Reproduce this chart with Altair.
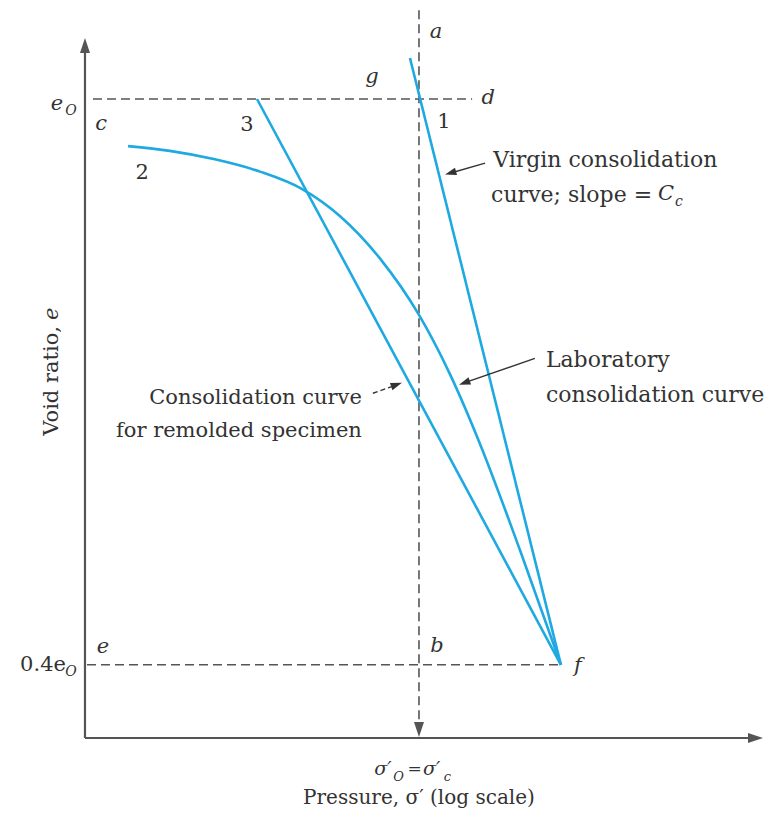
import altair as alt
import pandas as pd

# Coordinate system: x = normalised log-pressure (sigma'_c = 1), y = e / e0
X_DOMAIN = [-0.2305, 2.036]
Y_DOMAIN = [0.2471, 1.0965]

# ---- curves ----
lab_x = [0.129, 0.254, 0.389, 0.524, 0.653, 0.763, 0.883, 1.000, 1.093, 1.183, 1.302, 1.425]
lab_y = [0.950, 0.945, 0.936, 0.923, 0.904, 0.876, 0.831, 0.771, 0.708, 0.634, 0.522, 0.400]
virgin_x = [0.973, 1.425]
virgin_y = [1.0435, 0.400]
remold_x = [0.515, 1.425]
remold_y = [1.000, 0.400]

# ---- dashed construction lines ----
dash_x1 = [0.024, 0.006, 1.000]
dash_x2 = [1.159, 1.425, 1.000]
dash_y1 = [1.000, 0.400, 1.094]
dash_y2 = [1.000, 0.400, 0.336]

# ---- axes ----
axis_x1 = [0.0, 0.0]
axis_x2 = [0.0, 2.005]
axis_y1 = [0.3224, 0.3224]
axis_y2 = [1.052, 0.3224]

# ---- arrow heads (tip position, direction) ----
axhead_x = [0.0, 2.030, 1.0]
axhead_y = [1.0647, 0.3224, 0.3234]
axhead_angle = [270, 0, 90]

# ---- annotation arrows ----
ann_x1 = [1.198, 1.347]
ann_y1 = [0.932, 0.725]
ann_x2 = [1.090, 1.135]
ann_y2 = [0.921, 0.699]
ann_dash_x1 = [0.862]
ann_dash_y1 = [0.688]
ann_dash_x2 = [0.935]
ann_dash_y2 = [0.697]
annhead_x = [1.078, 1.120, 0.949]
annhead_y = [0.920, 0.697, 0.699]
annhead_angle = [164.6, 160.4, 341]

# ---- texts ----
big_texts = ["Virgin consolidation", "curve; slope =", "Laboratory", "consolidation curve"]
big_x = [1.222, 1.216, 1.380, 1.380]
big_y = [0.935, 0.898, 0.723, 0.686]

right_texts = ["Consolidation curve", "for remolded specimen"]
right_x = [0.829, 0.829]
right_y = [0.683, 0.648]

eo_texts = ["0.4e"]
eo_x = [-0.057]
eo_y = [0.400]

num_texts = ["1", "2", "3"]
num_x = [1.075, 0.171, 0.485]
num_y = [0.976, 0.922, 0.972]

ital_texts = ["e", "c", "g", "a", "d", "e", "b", "f", "C"]
ital_x = [-0.084, 0.048, 0.859, 1.051, 1.207, 0.054, 1.054, 1.476, 1.740]
ital_y = [0.995, 0.973, 1.023, 1.071, 1.001, 0.419, 0.420, 0.399, 0.899]

sub_texts = ["O", "O", "c"]
sub_x = [-0.042, -0.042, 1.778]
sub_y = [0.987, 0.392, 0.891]

# sigma'_O = sigma'_c label under the x axis
sig_texts = ["σ′", "σ′"]
sig_x = [0.892, 1.038]
sig_y = [0.2895, 0.2895]
sigsub_texts = ["O", "c"]
sigsub_x = [0.939, 1.085]
sigsub_y = [0.2810, 0.2810]
eq_texts = ["="]
eq_x = [0.987]
eq_y = [0.2895]

xtitle = ["Pressure, σ′ (log scale)"]
xtitle_x = [1.0]
xtitle_y = [0.2587]

ytitle = ["Void ratio,"]
ytitle_x = [-0.099]
ytitle_y = [0.7593]
ytitle_e = ["e"]
ytitle_e_x = [-0.099]
ytitle_e_y = [0.7656]

BLUE = "#1ea9e1"
GRAY = "#555555"
TXT = "#333333"
FONT = "DejaVu Serif"

xs = alt.Scale(domain=X_DOMAIN, nice=False, zero=False)
ys = alt.Scale(domain=Y_DOMAIN, nice=False, zero=False)


def X(f="x"):
    return alt.X(f"{f}:Q", scale=xs, axis=None)


def Y(f="y"):
    return alt.Y(f"{f}:Q", scale=ys, axis=None)


def line_layer(xv, yv, interp):
    df = pd.DataFrame({"x": xv, "y": yv, "o": range(len(xv))})
    return alt.Chart(df).mark_line(color=BLUE, strokeWidth=2.6, interpolate=interp).encode(
        x=X(), y=Y(), order="o:O")


def rule_layer(x1, x2, y1, y2, color, width, dash=None):
    df = pd.DataFrame({"x": x1, "x2": x2, "y": y1, "y2": y2})
    kw = dict(color=color, strokeWidth=width)
    if dash:
        kw["strokeDash"] = dash
    return alt.Chart(df).mark_rule(**kw).encode(x=X(), x2="x2:Q", y=Y(), y2="y2:Q")


ARROW = "M0,0L-1.5,-0.5L-1.5,0.5Z"


def head_layer(xv, yv, ang, size, color):
    df = pd.DataFrame({"x": xv, "y": yv, "a": ang})
    return alt.Chart(df).mark_point(shape=ARROW, filled=True, opacity=1, color=color,
                                    size=size, strokeWidth=0).encode(
        x=X(), y=Y(), angle=alt.Angle("a:Q", scale=None))


def text_layer(t, xv, yv, align="center", size=21, style="normal", angle=0, color=TXT):
    df = pd.DataFrame({"t": t, "x": xv, "y": yv})
    return alt.Chart(df).mark_text(align=align, baseline="middle", font=FONT, fontSize=size,
                                   fontStyle=style, angle=angle, color=color).encode(
        x=X(), y=Y(), text="t:N")


layers = [
    rule_layer(dash_x1, dash_x2, dash_y1, dash_y2, GRAY, 1.6, [9, 5]),
    rule_layer(axis_x1, axis_x2, axis_y1, axis_y2, GRAY, 2.2),
    head_layer(axhead_x, axhead_y, axhead_angle, 400, GRAY),
    line_layer(lab_x, lab_y, "monotone"),
    line_layer(virgin_x, virgin_y, "linear"),
    line_layer(remold_x, remold_y, "linear"),
    rule_layer(ann_x1, ann_x2, ann_y1, ann_y2, TXT, 1.4),
    rule_layer(ann_dash_x1, ann_dash_x2, ann_dash_y1, ann_dash_y2, TXT, 1.4, [5, 3]),
    head_layer(annhead_x, annhead_y, annhead_angle, 230, TXT),
    text_layer(big_texts, big_x, big_y, align="left", size=22),
    text_layer(right_texts, right_x, right_y, align="right", size=21),
    text_layer(eo_texts, eo_x, eo_y, align="right", size=21),
    text_layer(num_texts, num_x, num_y),
    text_layer(ital_texts, ital_x, ital_y, style="italic"),
    text_layer(sub_texts, sub_x, sub_y, size=14, style="italic"),
    text_layer(sig_texts, sig_x, sig_y, size=19, style="italic"),
    text_layer(sigsub_texts, sigsub_x, sigsub_y, size=13, style="italic"),
    text_layer(eq_texts, eq_x, eq_y, size=17),
    text_layer(xtitle, xtitle_x, xtitle_y, size=20),
    text_layer(ytitle, ytitle_x, ytitle_y, align="right", size=21, angle=270),
    text_layer(ytitle_e, ytitle_e_x, ytitle_e_y, align="left", size=21, style="italic", angle=270),
]

chart = alt.layer(*layers).properties(
    width=757, height=801, padding=0,
    autosize=alt.AutoSizeParams(type="none"),
    background="white",
).configure_view(stroke=None)

chart.save("out.html", embed_options={"renderer": "svg", "actions": False})
